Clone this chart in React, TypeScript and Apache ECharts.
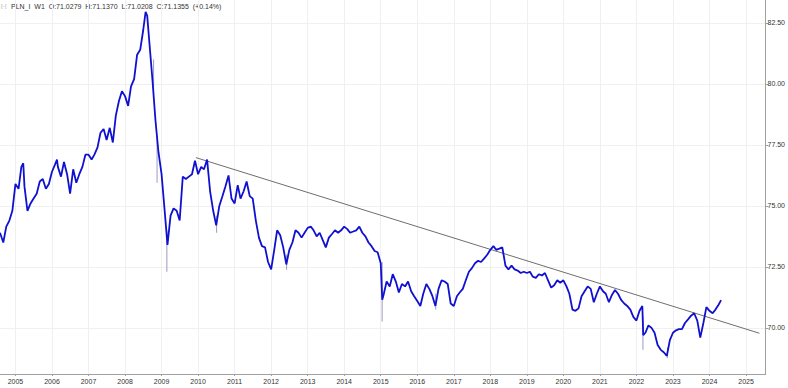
import React, { useEffect, useRef } from "react";
import * as echarts from "echarts";

const p2004_2008: [string, number][] = [
  ["2004-07-30", 73.9], ["2004-09-01", 73.5], ["2004-10-01", 74.15], ["2004-11-01", 74.4], ["2004-12-01", 74.8],
  ["2005-01-01", 75.9], ["2005-02-01", 75.7], ["2005-03-01", 76.6], ["2005-03-20", 76.75], ["2005-04-01", 75.8], ["2005-05-01", 74.8], ["2005-06-01", 75.1],
  ["2005-07-01", 75.3], ["2005-08-01", 75.5], ["2005-09-01", 76.0], ["2005-10-01", 76.1], ["2005-11-01", 75.7], ["2005-12-01", 75.9],
  ["2006-01-01", 76.4], ["2006-02-01", 76.7], ["2006-02-20", 76.9], ["2006-03-01", 76.6], ["2006-04-01", 76.2], ["2006-05-01", 76.8], ["2006-06-01", 76.3],
  ["2006-07-01", 75.5], ["2006-08-01", 76.5], ["2006-09-01", 75.95], ["2006-10-01", 76.3], ["2006-11-01", 76.6], ["2006-12-01", 77.1],
  ["2007-01-01", 77.1], ["2007-02-01", 76.9], ["2007-03-01", 77.1], ["2007-04-01", 77.4], ["2007-05-01", 78.0], ["2007-06-01", 78.15],
  ["2007-07-01", 77.7], ["2007-08-01", 78.2], ["2007-09-01", 77.6], ["2007-10-01", 78.7], ["2007-11-01", 79.3], ["2007-12-01", 79.7],
  ["2008-01-01", 79.5], ["2008-02-01", 79.1], ["2008-03-01", 79.9], ["2008-04-01", 80.2], ["2008-05-01", 81.2], ["2008-06-01", 81.4],
  ["2008-07-01", 82.2], ["2008-07-25", 82.95], ["2008-08-10", 82.8], ["2008-09-01", 81.7], ["2008-10-01", 80.2], ["2008-11-01", 78.5], ["2008-12-01", 77.2],
];

const p2009_2014: [string, number][] = [
  ["2009-01-01", 76.3], ["2009-02-01", 74.8], ["2009-03-01", 73.4], ["2009-04-01", 74.6], ["2009-05-01", 74.9], ["2009-06-01", 74.8],
  ["2009-07-01", 74.4], ["2009-08-01", 76.2], ["2009-09-01", 76.1], ["2009-10-01", 76.2], ["2009-11-01", 76.3], ["2009-12-01", 76.85],
  ["2010-01-01", 76.3], ["2010-02-01", 76.6], ["2010-03-01", 76.5], ["2010-04-01", 76.9], ["2010-05-01", 75.6], ["2010-06-01", 74.8],
  ["2010-07-01", 74.2], ["2010-08-01", 75.0], ["2010-09-01", 75.4], ["2010-10-01", 75.8], ["2010-11-01", 76.25], ["2010-12-01", 75.3],
  ["2011-01-01", 75.1], ["2011-02-01", 75.85], ["2011-03-01", 75.3], ["2011-04-01", 75.6], ["2011-05-01", 76.0], ["2011-06-01", 75.4],
  ["2011-07-01", 75.3], ["2011-08-01", 74.4], ["2011-09-01", 73.7], ["2011-10-01", 73.35], ["2011-11-01", 73.3], ["2011-12-01", 72.7],
  ["2012-01-01", 72.4], ["2012-02-01", 73.2], ["2012-03-01", 74.0], ["2012-04-01", 73.8], ["2012-05-01", 73.3], ["2012-06-01", 72.6],
  ["2012-07-01", 73.2], ["2012-08-01", 73.5], ["2012-09-01", 74.0], ["2012-10-01", 73.9], ["2012-11-01", 73.7], ["2012-12-01", 73.9],
  ["2013-01-01", 74.1], ["2013-02-01", 74.15], ["2013-03-01", 74.0], ["2013-04-01", 73.75], ["2013-05-01", 73.9], ["2013-06-01", 73.6],
  ["2013-07-01", 73.3], ["2013-08-01", 73.7], ["2013-09-01", 73.85], ["2013-10-01", 74.0], ["2013-11-01", 73.9], ["2013-12-01", 74.0],
  ["2014-01-01", 74.15], ["2014-02-01", 74.05], ["2014-03-01", 73.9], ["2014-04-01", 73.95], ["2014-05-01", 74.0], ["2014-06-01", 74.15],
  ["2014-07-01", 73.9], ["2014-08-01", 73.75], ["2014-09-01", 73.5], ["2014-10-01", 73.35], ["2014-11-01", 73.15], ["2014-12-01", 73.1],
];

const p2015_2019: [string, number][] = [
  ["2015-01-01", 72.65], ["2015-01-16", 71.15], ["2015-02-01", 71.4], ["2015-03-01", 71.9], ["2015-04-01", 71.7], ["2015-05-01", 72.2], ["2015-06-01", 71.9],
  ["2015-07-01", 71.45], ["2015-08-01", 71.8], ["2015-09-01", 71.7], ["2015-10-01", 71.9], ["2015-11-01", 71.5], ["2015-12-01", 71.3],
  ["2016-01-01", 71.1], ["2016-02-01", 70.9], ["2016-03-01", 71.4], ["2016-04-01", 71.8], ["2016-05-01", 71.6], ["2016-06-01", 71.3],
  ["2016-07-01", 70.9], ["2016-08-01", 71.6], ["2016-09-01", 71.95], ["2016-10-01", 71.9], ["2016-11-01", 71.8], ["2016-12-01", 71.0],
  ["2017-01-01", 70.9], ["2017-02-01", 71.3], ["2017-03-01", 71.45], ["2017-04-01", 71.6], ["2017-05-01", 71.95], ["2017-06-01", 72.3],
  ["2017-07-01", 72.45], ["2017-08-01", 72.65], ["2017-09-01", 72.75], ["2017-10-01", 72.7], ["2017-11-01", 72.85], ["2017-12-01", 73.0],
  ["2018-01-01", 73.2], ["2018-02-01", 73.35], ["2018-03-01", 73.2], ["2018-04-01", 73.25], ["2018-05-01", 73.3], ["2018-06-01", 72.55],
  ["2018-07-01", 72.4], ["2018-08-01", 72.55], ["2018-09-01", 72.4], ["2018-10-01", 72.35], ["2018-11-01", 72.25], ["2018-12-01", 72.3],
  ["2019-01-01", 72.25], ["2019-02-01", 72.3], ["2019-03-01", 72.1], ["2019-04-01", 72.05], ["2019-05-01", 72.2], ["2019-06-01", 72.15],
  ["2019-07-01", 72.25], ["2019-08-01", 71.95], ["2019-09-01", 71.65], ["2019-10-01", 71.75], ["2019-11-01", 71.95], ["2019-12-01", 71.85],
];

const p2020_2024: [string, number][] = [
  ["2020-01-01", 71.95], ["2020-02-01", 71.7], ["2020-03-01", 71.4], ["2020-04-01", 70.75], ["2020-05-01", 70.7], ["2020-06-01", 70.8],
  ["2020-07-01", 71.3], ["2020-08-01", 71.5], ["2020-09-01", 71.7], ["2020-10-01", 71.6], ["2020-11-01", 71.05], ["2020-12-01", 71.4],
  ["2021-01-01", 71.7], ["2021-02-01", 71.5], ["2021-03-01", 71.4], ["2021-04-01", 71.05], ["2021-05-01", 71.35], ["2021-06-01", 71.55],
  ["2021-07-01", 71.4], ["2021-08-01", 71.15], ["2021-09-01", 71.0], ["2021-10-01", 70.9], ["2021-11-01", 70.75], ["2021-12-01", 70.45],
  ["2022-01-01", 70.3], ["2022-02-01", 70.7], ["2022-03-01", 70.9], ["2022-03-10", 69.7], ["2022-04-01", 69.8], ["2022-05-01", 70.1], ["2022-06-01", 70.0],
  ["2022-07-01", 69.8], ["2022-08-01", 69.3], ["2022-09-01", 69.1], ["2022-10-01", 69.0], ["2022-11-01", 68.85], ["2022-12-01", 69.5],
  ["2023-01-01", 69.8], ["2023-02-01", 69.9], ["2023-03-01", 69.95], ["2023-04-01", 69.95], ["2023-05-01", 70.2], ["2023-06-01", 70.35],
  ["2023-07-01", 70.5], ["2023-08-01", 70.6], ["2023-09-01", 70.3], ["2023-10-01", 69.6], ["2023-11-01", 70.2], ["2023-12-01", 70.85],
  ["2024-01-01", 70.7], ["2024-02-01", 70.6], ["2024-03-01", 70.75], ["2024-04-01", 70.95], ["2024-04-26", 71.1355],
];

// single-week high/low wicks that stand out
const wicks: [string, number, number][] = [
  ["2008-10-13", 81.0, 79.6],
  ["2008-11-17", 77.9, 75.95],
  ["2009-02-23", 74.0, 72.3],
  ["2010-07-05", 74.6, 73.9],
  ["2012-06-04", 73.0, 72.38],
  ["2015-01-15", 72.7, 70.26],
  ["2016-07-04", 71.4, 70.75],
  ["2022-03-07", 70.5, 69.1],
  ["2022-11-07", 69.2, 68.76],
];

// trend line drawn on the chart
const trendLine: [string, number][] = [
  ["2009-12-10", 76.98],
  ["2025-05-15", 69.78],
];

const yearTicks = [2005, 2006, 2007, 2008, 2009, 2010, 2011, 2012, 2013, 2014, 2015, 2016, 2017, 2018, 2019, 2020, 2021, 2022, 2023, 2024, 2025];
const priceTicks = [70, 72.5, 75, 77.5, 80, 82.5];

const header = { symbol: "PLN_I", period: "W1", O: "71.0279", H: "71.1370", L: "71.0208", C: "71.1355", change: "+0.14%" };
const lastClose = 71.1355;

const toYear = (d: string) => {
  const [y, m, dd] = d.split("-").map(Number);
  const t = Date.UTC(y, m - 1, dd);
  const s = Date.UTC(y, 0, 1);
  const e = Date.UTC(y + 1, 0, 1);
  return y + (t - s) / (e - s);
};

const FONT = "Arial, 'Liberation Sans', sans-serif";

export default function App() {
  const ref = useRef<HTMLDivElement>(null);
  useEffect(() => {
    if (!ref.current) return;
    const chart = echarts.init(ref.current, undefined, { renderer: "svg" });
    const prices = [...p2004_2008, ...p2009_2014, ...p2015_2019, ...p2020_2024].map(([d, v]) => [toYear(d), v]);
    const wickData = wicks.map(([d, h, l]) => [toYear(d), h, l]);
    const trend = trendLine.map(([d, v]) => [toYear(d), v]);
    chart.setOption({
      animation: false,
      backgroundColor: "#ffffff",
      textStyle: { fontFamily: FONT },
      grid: { left: 0, top: 0, right: 21, bottom: 14, containLabel: false },
      xAxis: {
        type: "value",
        min: 2004.577,
        max: 2025.533,
        axisLine: { show: true, lineStyle: { color: "#a0a0a0", width: 1 } },
        axisTick: { show: true, length: 2, lineStyle: { color: "#a0a0a0" }, customValues: yearTicks },
        axisLabel: {
          customValues: yearTicks,
          formatter: (v: number) => String(Math.round(v)),
          color: "#333",
          fontSize: 7,
          margin: 4,
          fontFamily: FONT,
        },
        splitLine: { show: true, lineStyle: { color: "#f0f0f0", width: 1 } },
      },
      yAxis: {
        type: "value",
        position: "right",
        min: 68.11,
        max: 83.44,
        axisLine: { show: true, lineStyle: { color: "#a0a0a0", width: 1 } },
        axisTick: { show: true, length: 3, lineStyle: { color: "#a0a0a0" }, customValues: priceTicks },
        axisLabel: {
          customValues: priceTicks,
          formatter: (v: number) => v.toFixed(2),
          color: "#333",
          fontSize: 7,
          margin: 2,
          fontFamily: FONT,
        },
        splitLine: { show: true, lineStyle: { color: "#f0f0f0", width: 1 } },
      },
      series: [
        {
          type: "custom",
          name: "wicks",
          silent: true,
          data: wickData,
          encode: { x: 0, y: [1, 2] },
          renderItem: (params: any, api: any) => {
            const p1 = api.coord([api.value(0), api.value(1)]);
            const p2 = api.coord([api.value(0), api.value(2)]);
            return {
              type: "line",
              shape: { x1: p1[0], y1: p1[1], x2: p2[0], y2: p2[1] },
              style: { stroke: "#9a9ac4", lineWidth: 1 },
            };
          },
          z: 1,
        },
        {
          type: "line",
          name: "PLN_I",
          data: prices,
          showSymbol: false,
          symbol: "none",
          lineStyle: { color: "#1010d0", width: 1.8 },
          z: 3,
          markLine: {
            silent: true,
            symbol: "none",
            lineStyle: { opacity: 0 },
            label: {
              show: true,
              position: "end",
              formatter: "71.13",
              backgroundColor: "#000000",
              color: "#ffffff",
              fontWeight: "bold",
              fontSize: 8,
              padding: [2, 4, 1, 2],
              distance: 1,
              fontFamily: FONT,
            },
            data: [{ yAxis: lastClose }],
          },
        },
        {
          type: "line",
          name: "trend",
          data: trend,
          showSymbol: false,
          symbol: "none",
          lineStyle: { color: "#6e6e6e", width: 1 },
          z: 2,
        },
      ],
      graphic: [
        {
          type: "text",
          left: 1,
          top: 3,
          style: { text: "[-]", fill: "#b0b0b0", fontSize: 6, fontFamily: FONT },
        },
        {
          type: "text",
          left: 11,
          top: 3,
          style: {
            text: `${header.symbol}  ${header.period}  O:${header.O}  H:${header.H}  L:${header.L}  C:${header.C}  (${header.change})`,
            fill: "#333333",
            fontSize: 7,
            fontFamily: FONT,
          },
        },
      ],
    });
    return () => chart.dispose();
  }, []);
  return <div ref={ref} style={{ position: "fixed", left: 0, top: 0, width: 788, height: 388 }} />;
}
